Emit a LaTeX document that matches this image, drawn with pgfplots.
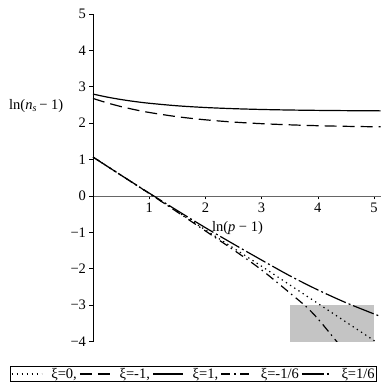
\documentclass[border=0pt]{standalone}
\usepackage{fontspec}
\setmainfont{Liberation Serif}
\usepackage{pgfplots}
\pgfplotsset{compat=1.18}
\begin{document}
\begin{tikzpicture}[font=\fontsize{14.5}{17}\selectfont]
\useasboundingbox (0pt,0pt) rectangle (386pt,386pt);
\begin{axis}[
  at={(93pt,190pt)}, anchor=origin,
  x=56.2pt, y=36.4pt,
  xmin=0, xmax=5.12, ymin=-4, ymax=5,
  axis lines=middle,
  axis line style={-, line width=0.8pt},
  x axis line style={black!60},
  xtick={1,2,3,4,5}, ytick={-4,-3,-2,-1,0,1,2,3,4,5},
  xticklabels={1,2,3,4,5},
  yticklabels={−4,−3,−2,−1,0,1,2,3,4,5},
  hide obscured y ticks=false,
  tick style={black, line width=0.6pt},
  major tick length=3.5pt,
  tick align=outside,
  /pgf/number format/assume math mode=true,
  legend columns=5,
  legend style={at={(axis description cs:0.349,-0.099)}, anchor=center,
    draw=black, line width=0.8pt, inner sep=1pt, nodes={inner sep=1pt},
    /tikz/every odd column/.append style={column sep=8pt},
    /tikz/every even column/.append style={column sep=1.5pt}},
  legend image code/.code={\draw[#1] (0pt,0pt) -- (30pt,0pt);},
]
\addplot[draw=none, fill=black!23, forget plot] coordinates {(3.5,-4) (5,-4) (5,-3) (3.5,-3)} -- cycle;

% xi = 0
\addplot[black, line width=1.2pt, dash pattern=on 1.3pt off 3.7pt, smooth] coordinates {
(0,1.07) (0.5,0.57) (1,0.07) (1.5,-0.43) (2,-0.93) (2.5,-1.43) (3,-1.93)
(3.5,-2.44) (4,-2.95) (4.5,-3.46) (5,-3.97) (5.06,-4.03)};
\addlegendentry{ξ=0,}
% xi = -1
\addplot[black, line width=1.2pt, dash pattern=on 12pt off 6pt, smooth] coordinates {
(0,2.68) (0.25,2.559) (0.5,2.456) (0.75,2.369) (1,2.295) (1.5,2.178) (2,2.093)
(2.5,2.031) (3,1.987) (3.5,1.955) (4,1.931) (4.5,1.914) (5.12,1.900)};
\addlegendentry{ξ=-1,}
% xi = 1
\addplot[black, line width=1.2pt, smooth] coordinates {
(0,2.80) (0.25,2.718) (0.5,2.650) (0.75,2.594) (1,2.548) (1.5,2.478) (2,2.431)
(2.5,2.399) (3,2.377) (3.5,2.362) (4,2.352) (4.5,2.345) (5.12,2.339)};
\addlegendentry{ξ=1,}
% xi = -1/6
\addplot[black, line width=1.2pt, dash pattern=on 9pt off 4pt on 1.5pt off 4.5pt, smooth] coordinates {
(0,1.07) (0.5,0.57) (1,0.07) (1.5,-0.44) (2,-0.96) (2.5,-1.48) (3,-2.03)
(3.5,-2.66) (3.8,-3.05) (4,-3.37) (4.2,-3.74) (4.4,-4.12)};
\addlegendentry{ξ=-1/6}
% xi = 1/6
\addplot[black, line width=1.2pt, dash pattern=on 22pt off 3pt on 2pt off 3pt, smooth] coordinates {
(0,1.07) (0.5,0.57) (1,0.08) (1.5,-0.40) (2,-0.87) (2.5,-1.32) (3,-1.76)
(3.5,-2.19) (4,-2.58) (4.5,-2.93) (5,-3.24) (5.12,-3.31)};
\addlegendentry{ξ=1/6}

\coordinate (yl) at (axis cs:-1.01,2.47);
\coordinate (xl) at (axis cs:2.57,-0.89);
\end{axis}
\node at (yl) {ln(\textit{n}\textsubscript{\textit{s}}\,− 1)};
\node at (xl) {ln(\textit{p} − 1)};
\end{tikzpicture}
\end{document}
